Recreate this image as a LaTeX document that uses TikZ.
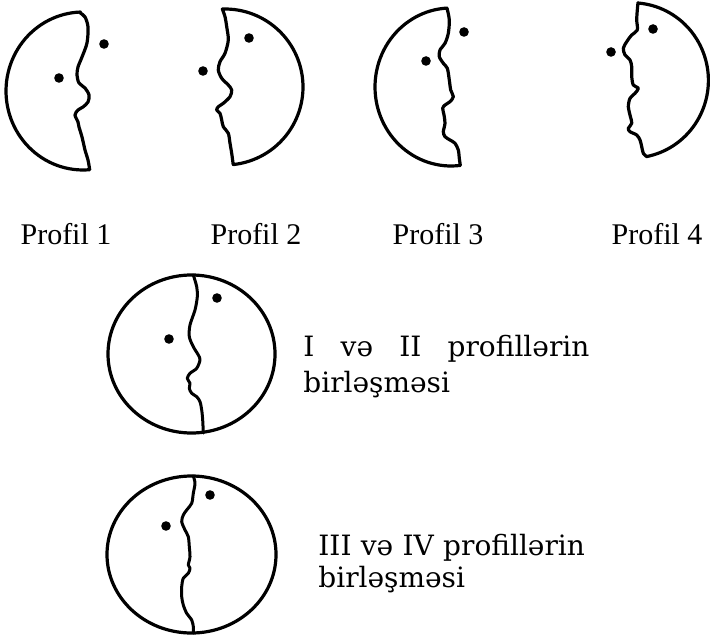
\documentclass[tikz,border=0pt]{standalone}
\usepackage{fontspec}
\setmainfont{Liberation Serif}
\newfontfamily\slabfont{DejaVu Serif}

\begin{document}
\begin{tikzpicture}[
        x=0.5pt, y=-0.5pt,
        outline/.style={line width=1.6pt, line join=round},
        cut/.style={line width=1.5pt, line join=round, line cap=round},
        caption/.style={font=\fontsize{15}{18}\selectfont, anchor=base, inner sep=0pt},
        note/.style={font=\slabfont\fontsize{14}{18}\selectfont, anchor=north west, inner sep=0pt, text width=143pt}
    ]
        \useasboundingbox (0,0) rectangle (710,640);

        % Profile 1
        \draw[outline] plot[smooth, tension=0.5] coordinates {(80.3,13) (85,17) (88,27) (87,43) (82,57) (78,67) (77,75) (79,83) (85,88) (89,95) (88,102) (83,107) (78,110) (75,115) (78,122) (79,127) (82,137) (85,150) (88,160) (89.7,169.7)}
            -- plot[domain=85:268, samples=60] ({83+77*cos(\x)},{91+79*sin(\x)}) -- cycle;
        \fill (104,44) circle[radius=2.4pt];
        \fill (59,78) circle[radius=2.4pt];

        % Profile 2
        \draw[outline] plot[smooth, tension=0.5] coordinates {(222.3,9) (225,16.7) (226.7,26.7) (228.3,40) (225,53.3) (220,61.7) (218.3,70) (221.7,78.3) (228.3,85) (231.7,90) (230,96.7) (223.3,103.3) (218.3,106.7) (216.7,110) (220,113.3) (221.7,120) (223.3,126.7) (228.3,133.3) (230,143.3) (231.7,153.3) (233.2,164.6)}
            -- plot[domain=84:-92, samples=60] ({225+78*cos(\x)},{87+78*sin(\x)}) -- cycle;
        \fill (249,38) circle[radius=2.4pt];
        \fill (203,71) circle[radius=2.4pt];

        % Profile 3
        \draw[outline] plot[smooth, tension=0.5] coordinates {(447,8.1) (449.3,20) (448.3,33.3) (445,43.3) (440,50) (439.3,56.7) (443.3,63.3) (447.3,68.3) (449.3,80) (450.7,90) (453.3,96.7) (450,101.7) (445,105) (442.7,108.3) (444,115) (445,123.3) (443.3,131.7) (445,136.7) (450,140) (455,143.3) (458.3,150) (459.3,158.3) (460.3,165.4)}
            -- plot[domain=83:267, samples=60] ({451+76*cos(\x)},{87+79*sin(\x)}) -- cycle;
        \fill (464,32) circle[radius=2.4pt];
        \fill (426,61) circle[radius=2.4pt];

        % Profile 4
        \draw[outline] plot[smooth, tension=0.5] coordinates {(638,2.6) (637.3,10) (636.7,20) (637.3,30) (631.7,35) (626.7,41.7) (623.3,48.3) (625,55) (630,60) (631.7,66.7) (631.7,76.7) (633.3,85) (638.3,88.3) (635,93.3) (630,98.3) (628.3,106.7) (630,115) (631.7,123.3) (628.3,128.3) (630,131.7) (636.7,135) (640,140) (641.7,146.7) (643.3,153.3) (646.7,156.6)}
            -- plot[domain=79:-85.5, samples=60] ({632+76.4*cos(\x)},{80.4+77.6*sin(\x)}) -- cycle;
        \fill (653,29) circle[radius=2.4pt];
        \fill (611,52) circle[radius=2.4pt];

        % Captions
        \node[caption] (cap1) at (66,245) {Profil 1};
        \node[caption] (cap2) at (256,245) {Profil 2};
        \node[caption] (cap3) at (438,245) {Profil 3};
        \node[caption] (cap4) at (657,245) {Profil 4};

        % Profiles I and II together
        \draw[outline] (191.5,354) ellipse[x radius=83.5, y radius=79];
        \draw[cut] plot[smooth, tension=0.5] coordinates {(193.3,275) (196.7,286.7) (197.3,296.7) (195,310) (190,325) (189.3,336.7) (193.3,346.7) (198.3,355) (200,360) (196.7,368.3) (190,373.3) (187.3,378.3) (190,383.3) (189.3,388.3) (191.7,393.3) (196.7,396.7) (200,401.7) (201.7,410) (202.7,420) (203.3,433)};
        \fill (217,298) circle[radius=2.4pt];
        \fill (169,339) circle[radius=2.4pt];
        \node[note, align=justify] (join12) at (303,335) {I və II profillərin\linebreak birləşməsi};

        % Profiles III and IV together
        \draw[outline] (191.5,554.5) ellipse[x radius=84.5, y radius=78.5];
        \draw[cut] plot[smooth, tension=0.5] coordinates {(193.3,476) (195,483.3) (193.3,493.3) (191.7,503.3) (186.7,510) (183.3,515) (181.7,521.7) (185,530) (188.3,536.7) (189.3,546.7) (190,556.7) (188.3,565) (190,568.3) (188.3,573.3) (183.3,578.3) (181.7,586.7) (181.7,596.7) (183.3,605) (186.7,613.3) (191.7,620) (193.3,626.7) (193.3,633)};
        \fill (210,495) circle[radius=2.4pt];
        \fill (166,526) circle[radius=2.4pt];
        \node[note, font=\slabfont\fontsize{14}{16}\selectfont, align=left] (join34) at (318,534) {III və IV profillərin\\ birləşməsi};
\end{tikzpicture}
\end{document}
